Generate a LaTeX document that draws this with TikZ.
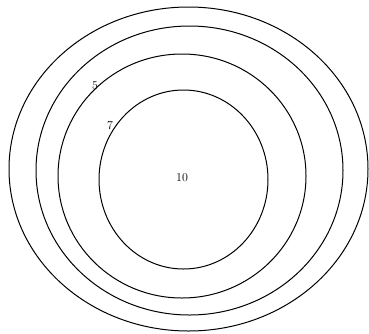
\documentclass[tikz,border=0pt]{standalone}
\usepackage{tikz}
\usetikzlibrary{shapes.geometric, positioning}

\begin{document}
\begin{tikzpicture}[
    x=1pt, y=-1pt,
    ring/.style={ellipse, draw=black, line width=1pt, inner sep=0pt},
    lab/.style={inner sep=0pt, font=\large}
]
\useasboundingbox (0,0) rectangle (369,333);
\node[ring, minimum width=359pt, minimum height=324pt] (R1) at (188.5,169) {};
\node[ring, minimum width=307pt, minimum height=289pt] (R2) at (189.5,170.5) {};
\node[ring, minimum width=248pt, minimum height=244pt] (R3) at (182,176) {};
\node[ring, minimum width=169pt, minimum height=179pt] (R4) at (183.5,179.5) {};

\node[lab] (L5) at (95,86) {5};
\node[lab] (L7) at (110,126) {7};
\node[lab] (L10) at (182,178) {10};
\end{tikzpicture}
\end{document}
